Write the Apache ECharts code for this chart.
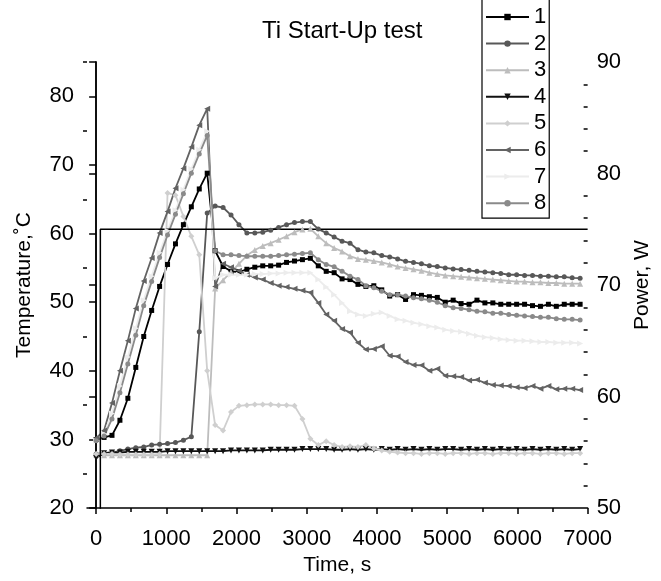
<!DOCTYPE html>
<html><head><meta charset="utf-8">
<script src="https://cdn.jsdelivr.net/npm/echarts@6/dist/echarts.min.js"></script>
<style>html,body{margin:0;padding:0;background:#fff}#c{width:661px;height:581px}</style>
</head><body><div id="c"></div>
<script>
// time stamps (s)
const times = [0,113,226,339,452,565,678,791,904,1017,1130,1243,1356,1469,1582,1695,1808,1921,2034,2147,
2260,2373,2486,2599,2712,2825,2938,3051,3164,3277,3390,3503,3616,3729,3842,3955,4068,4181,4294,4407,
4520,4633,4746,4859,4972,5085,5198,5311,5424,5537,5650,5763,5876,5989,6102,6215,6328,6441,6554,6667,
6780,6893];
// temperatures (°C)
const s1 = [30.0,30.3,30.6,32.8,36.0,40.5,45.0,48.8,52.3,55.5,
58.5,61.3,63.9,66.5,68.8,57.5,55.2,54.5,54.4,54.8,
55.1,55.3,55.3,55.4,55.8,56.0,56.2,56.4,55.3,54.5,
54.3,53.4,53.3,52.6,52.3,52.4,51.8,50.9,51.1,50.4,
51.1,51.0,50.8,50.7,50.0,50.3,49.8,49.7,50.3,49.9,
49.9,49.7,49.7,49.7,49.7,49.5,49.4,49.7,49.4,49.7,
49.7,49.7];
const s2 = [27.9,28.0,28.1,28.35,28.6,28.8,28.9,29.2,29.3,29.4,
29.55,29.9,30.4,45.7,63.0,64.0,63.8,62.7,61.3,60.1,
60.1,60.2,60.5,60.9,61.3,61.6,61.75,61.75,60.65,60.1,
59.5,58.9,58.6,57.65,57.3,57.2,56.8,56.6,56.3,55.95,
55.8,55.6,55.3,55.2,55.0,54.85,54.75,54.65,54.5,54.4,
54.3,54.2,54.0,54.0,53.9,53.9,53.8,53.8,53.7,53.7,
53.55,53.5];
const s3 = [27.8,27.7,27.7,27.7,27.7,27.7,27.7,27.7,27.7,27.7,
27.7,27.7,27.7,27.7,27.7,52.0,53.2,54.4,55.6,56.8,
57.6,58.2,58.6,59.1,59.6,60.2,60.6,60.7,59.6,58.6,
57.9,57.4,56.7,56.3,56.2,56.0,55.8,55.5,55.2,55.0,
54.8,54.6,54.3,54.1,53.9,53.8,53.7,53.6,53.5,53.4,
53.3,53.2,53.1,53.0,53.0,52.9,52.9,52.8,52.8,52.7,
52.7,52.7];
const s4 = [27.3,28.0,28.1,28.1,28.2,28.2,28.2,28.2,28.2,28.3,
28.3,28.3,28.3,28.3,28.3,28.3,28.3,28.4,28.4,28.4,
28.4,28.4,28.5,28.5,28.5,28.5,28.6,28.6,28.6,28.6,
28.5,28.5,28.6,28.5,28.6,28.5,28.6,28.5,28.6,28.5,
28.6,28.5,28.6,28.5,28.6,28.6,28.5,28.6,28.5,28.6,
28.5,28.6,28.5,28.6,28.5,28.6,28.5,28.6,28.5,28.6,
28.5,28.6];
const s5 = [27.9,27.9,27.9,27.8,27.8,27.8,27.8,27.8,27.9,65.9,
65.6,62.5,59.6,56.9,40.0,32.1,31.3,34.0,34.9,35.0,
35.1,35.1,35.1,35.0,35.0,34.9,33.0,30.1,29.2,29.75,
29.2,28.9,29.0,28.9,29.2,28.7,28.4,28.2,28.1,28.0,
28.0,27.9,28.0,28.0,27.9,28.0,28.0,27.9,28.0,28.0,
27.9,28.0,28.0,27.9,28.0,28.0,27.9,28.0,28.0,27.9,
28.0,28.0];
const s6 = [30.2,31.3,35.3,40.0,44.4,49.1,53.1,56.45,60.1,63.2,
66.6,69.5,72.6,75.8,78.2,52.3,55.6,55.1,54.6,54.0,
53.6,53.3,52.8,52.4,52.2,51.95,51.7,51.4,49.9,48.2,
47.3,46.1,45.6,44.1,43.1,43.2,43.6,42.2,42.1,41.3,
40.85,40.8,40.0,40.3,39.3,39.2,39.1,38.6,38.7,38.25,
37.95,37.85,37.8,37.6,37.5,37.8,37.4,37.8,37.3,37.4,
37.4,37.2];
const s7 = [29.8,30.8,33.8,37.8,42.0,46.2,50.3,53.8,57.2,60.4,
63.4,66.4,69.4,72.2,74.9,53.5,54.0,54.0,54.0,54.0,
54.1,54.1,54.2,54.2,54.3,54.3,54.3,54.3,53.3,52.2,
51.1,49.9,48.7,48.2,48.0,48.3,48.5,48.0,47.5,47.3,
47.0,46.8,46.5,46.3,46.0,45.8,45.7,45.4,45.1,44.9,
44.8,44.6,44.5,44.4,44.4,44.3,44.2,44.2,44.1,44.1,
44.1,44.0];
const s8 = [29.8,30.5,33.0,36.8,41.0,45.2,49.5,53.0,56.5,59.8,
62.8,65.8,68.8,71.6,74.3,57.5,56.9,56.9,56.8,56.7,
56.7,56.7,56.7,56.8,56.9,57.0,57.1,57.2,56.2,55.5,
55.15,54.5,53.8,53.3,52.4,52.1,51.6,51.1,51.1,50.9,
50.65,50.5,50.3,50.0,49.5,49.2,49.1,48.9,48.7,48.6,
48.4,48.4,48.2,48.1,48.0,47.9,47.8,47.8,47.6,47.5,
47.5,47.4];
// power (W)
const powerTimes = [60, 60, 7000];
const powerValues = [0, 75, 75];
// ticks
const xMajor = [0,1000,2000,3000,4000,5000,6000,7000];
const xMinor = [500,1500,2500,3500,4500,5500,6500];
const tMajor = [20,30,40,50,60,70,80];
const tMinor = [25,35,45,55,65,75,85];
const pMajor = [50,60,70,80,90];
const pMinor = [52,54,56,58,62,64,66,68,72,74,76,78,82,84,86,88];

const names = ['1','2','3','4','5','6','7','8'];
const tempSeries = [s1,s2,s3,s4,s5,s6,s7,s8];
const colors = ['#000000','#585858','#bdbdbd','#111111','#cfcfcf','#636363','#ececec','#8a8a8a'];
const symbols = ['rect','circle','triangle','triangle','diamond','triangle','triangle','circle'];
const rotations = [0,0,0,180,0,90,-90,0];
const sizes = [5,5,6,6,6,6,6,5];

const FONT = 'Liberation Sans, Arial, sans-serif';
const plain = v => String(v);
const series = tempSeries.map((arr, i) => ({
  name: names[i], type: 'line', xAxisIndex: 0, yAxisIndex: 0,
  data: times.map((t, j) => [t, arr[j]]),
  symbol: symbols[i], symbolRotate: rotations[i], symbolSize: sizes[i],
  lineStyle: {color: colors[i], width: 1.8},
  itemStyle: {color: colors[i]},
  emphasis: {disabled: true}
}));
series.push({
  name: 'Power', type: 'line', xAxisIndex: 0, yAxisIndex: 1,
  data: powerTimes.map((t, j) => [t, powerValues[j]]),
  showSymbol: false, symbol: 'none',
  lineStyle: {color: '#000', width: 1.5}, clip: true
});

const axisLine = {show: true, lineStyle: {color: '#000', width: 1.5}};
const tickStyle = {color: '#000', width: 1.5};
const option = {
  animation: false,
  backgroundColor: '#fff',
  title: {text: 'Ti Start-Up test', left: 262, top: 19, padding: 0,
    textStyle: {fontFamily: FONT, fontSize: 24, fontWeight: 'normal', color: '#000'}},
  legend: {
    data: names, orient: 'vertical', left: 482, top: -6,
    padding: [12, 3, 4, 3], itemWidth: 43, itemHeight: 8, itemGap: 4.6,
    borderColor: '#000', borderWidth: 1.2, backgroundColor: '#fff',
    textStyle: {fontFamily: FONT, fontSize: 22, color: '#000', lineHeight: 22}
  },
  grid: {left: 87, right: 70, top: 62, bottom: 71},
  xAxis: [
    {type: 'value', min: -130, max: 7000, position: 'bottom', axisLine: axisLine,
     splitLine: {show: false},
     axisTick: {show: true, customValues: xMajor, length: 6, lineStyle: tickStyle},
     axisLabel: {customValues: xMajor, formatter: plain, fontFamily: FONT, fontSize: 22, color: '#000', margin: 20},
     name: 'Time, s', nameLocation: 'middle', nameGap: 45,
     nameTextStyle: {fontFamily: FONT, fontSize: 21, color: '#000'}},
    {type: 'value', min: -130, max: 7000, position: 'bottom', axisLine: {show: false},
     splitLine: {show: false},
     axisTick: {show: true, customValues: xMinor, length: 4, lineStyle: tickStyle},
     axisLabel: {show: false}}
  ],
  yAxis: [
    {type: 'value', min: 20, max: 85, position: 'left', axisLine: axisLine,
     splitLine: {show: false},
     axisTick: {show: true, customValues: tMajor, length: 7, lineStyle: tickStyle},
     axisLabel: {customValues: tMajor, formatter: plain, fontFamily: FONT, fontSize: 22, color: '#000', margin: 13},
     name: 'Temperature,˚C', nameLocation: 'middle', nameGap: 52,
     nameTextStyle: {fontFamily: FONT, fontSize: 21, color: '#000'}},
    {type: 'value', min: 50, max: 90, position: 'right', axisLine: axisLine,
     splitLine: {show: false},
     axisTick: {show: true, inside: true, customValues: pMajor, length: 7, lineStyle: tickStyle},
     axisLabel: {customValues: pMajor, formatter: plain, fontFamily: FONT, fontSize: 22, color: '#000', margin: 9},
     name: 'Power, W', nameLocation: 'middle', nameGap: 43,
     nameTextStyle: {fontFamily: FONT, fontSize: 21, color: '#000'}},
    {type: 'value', min: 20, max: 85, position: 'left', axisLine: {show: false},
     splitLine: {show: false},
     axisTick: {show: true, customValues: tMinor, length: 4, lineStyle: tickStyle},
     axisLabel: {show: false}},
    {type: 'value', min: 50, max: 90, position: 'right', axisLine: {show: false},
     splitLine: {show: false},
     axisTick: {show: true, inside: true, customValues: pMinor, length: 4, lineStyle: tickStyle},
     axisLabel: {show: false}}
  ],
  series: series
};
const chart = echarts.init(document.getElementById('c'), null, {renderer: 'canvas'});
chart.setOption(option);
</script>
</body></html>
